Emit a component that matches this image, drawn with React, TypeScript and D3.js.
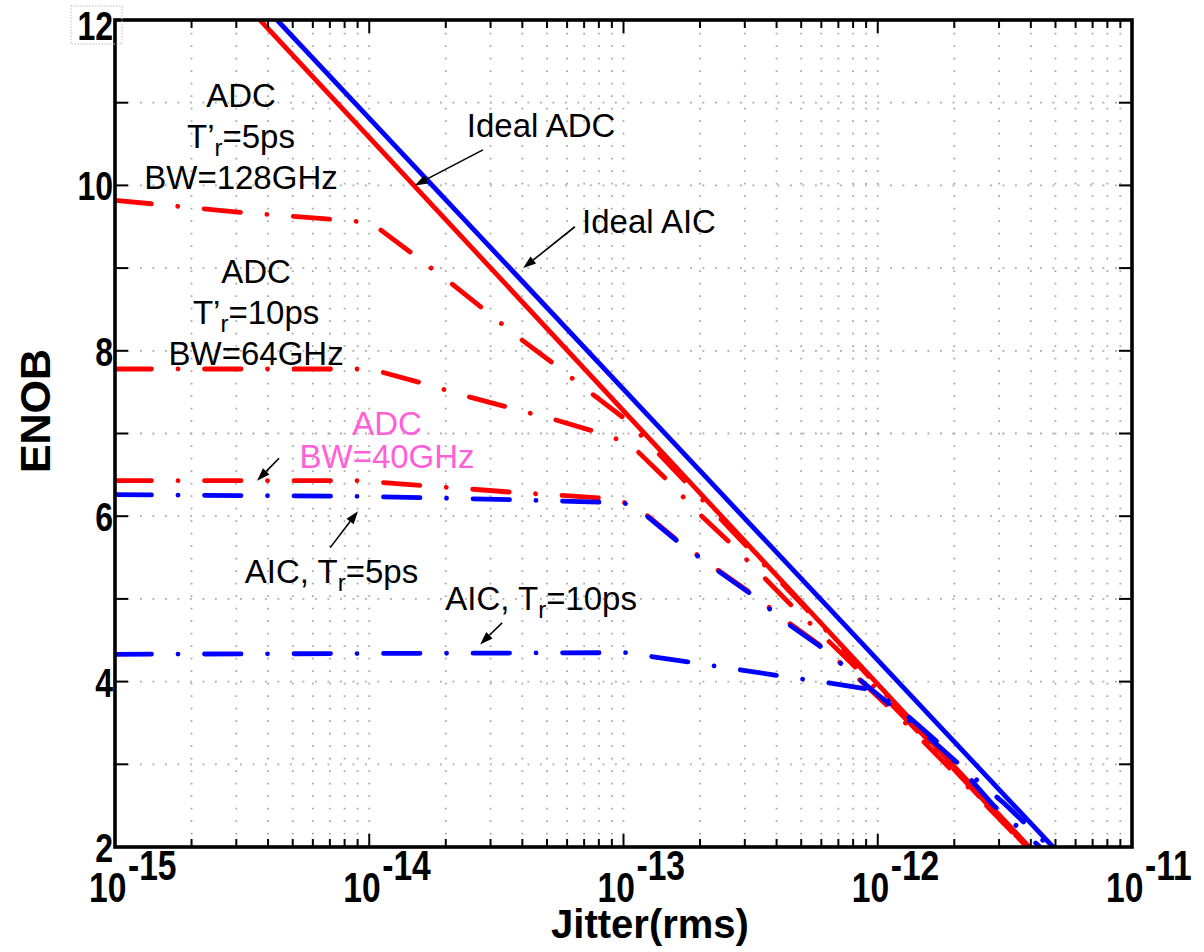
import React from 'react'
import * as d3 from 'd3'

// ENOB vs. jitter (rms) — ideal ADC/AIC lines and the band-limited curves.
// Values (jitter in seconds, ENOB in bits).
const W = 1204, H = 952
const M = { top: 20, right: 72, bottom: 105, left: 115 }

const idealAdcJitter = [3.72e-15, 3.94e-12]
const idealAdcEnob = [12, 2]
const idealAicJitter = [4.34e-15, 4.89e-12]
const idealAicEnob = [12, 2]

// ADC, T'r = 5ps, BW = 128GHz
const adc128Jitter = [1e-15, 3.24e-15, 7.2e-15, 9.2e-15, 1.1e-14, 1.47e-14, 2.11e-14, 2.77e-14, 3.99e-14, 5.28e-14, 7.59e-14, 1.03e-13, 2.0e-13, 4.94e-13, 1.22e-12, 3.86e-12]
const adc128Enob = [9.82, 9.67, 9.59, 9.56, 9.47, 9.18, 8.81, 8.52, 8.13, 7.85, 7.47, 7.16, 6.23, 4.96, 3.66, 2.0]

// ADC, T'r = 10ps, BW = 64GHz
const adc64Jitter = [1e-15, 9.04e-15, 1.13e-14, 1.61e-14, 2.49e-14, 3.48e-14, 5.47e-14, 7.58e-14, 9.51e-14, 1.14e-13, 1.48e-13, 2.0e-13, 2.62e-13, 4.65e-13, 7.78e-13, 1.6e-12, 3.86e-12]
const adc64Enob = [7.78, 7.78, 7.74, 7.61, 7.44, 7.32, 7.16, 7.03, 6.93, 6.78, 6.44, 6.02, 5.68, 4.9, 4.24, 3.25, 2.0]

// ADC, BW = 40GHz
const adc40Jitter = [1e-15, 9.04e-15, 3.64e-14, 8.22e-14, 1.03e-13, 1.25e-13, 1.64e-13, 2.35e-13, 3.2e-13, 4.52e-13, 6.04e-13, 8.51e-13, 1.22e-12, 2.1e-12, 3.86e-12]
const adc40Enob = [6.43, 6.43, 6.29, 6.22, 6.16, 6.0, 5.7, 5.35, 5.06, 4.7, 4.42, 4.02, 3.57, 2.83, 2.0]

// AIC, Tr = 5ps
const aic5Jitter = [1e-15, 9.04e-15, 3.64e-14, 8.22e-14, 1.03e-13, 1.25e-13, 1.64e-13, 2.35e-13, 3.2e-13, 4.52e-13, 6.04e-13, 9.33e-13, 1.47e-12, 2.41e-12, 3.11e-12, 4.75e-12]
const aic5Enob = [6.26, 6.24, 6.2, 6.17, 6.15, 5.99, 5.69, 5.34, 5.05, 4.68, 4.41, 3.92, 3.42, 2.83, 2.54, 2.0]

// AIC, Tr = 10ps
const aic10Jitter = [1e-15, 1.04e-13, 1.31e-13, 1.86e-13, 2.92e-13, 4.12e-13, 6.6e-13, 9.15e-13, 1.17e-12, 1.73e-12, 2.84e-12, 4.35e-12]
const aic10Enob = [4.33, 4.35, 4.3, 4.23, 4.14, 4.07, 3.98, 3.91, 3.72, 3.26, 2.51, 2.0]

const yTickValues = [2, 3, 4, 5, 6, 7, 8, 9, 10, 11, 12]
const yTickLabels = [2, 4, 6, 8, 10, 12]
const xDecades = [-15, -14, -13, -12, -11]

// annotation anchors, in data coordinates [jitter, enob]
const noteAdc128 = [3.13e-15, 10.95]
const noteAdc64 = [3.59e-15, 8.82]
const noteAdc40 = [1.175e-14, 6.98]
const noteAic5 = [3.24e-15, 5.19]
const noteAic10 = [1.99e-14, 4.87]
const noteIdealAdc = [2.42e-14, 10.585]
const noteIdealAic = [6.87e-14, 9.42]

// arrows: [from, to]
const arrows = [
  [[2.8e-14, 10.43], [1.51e-14, 10.0]],
  [[6.44e-14, 9.5], [4.03e-14, 9.0]],
  [[4.42e-15, 6.7], [3.62e-15, 6.43]],
  [[7.02e-15, 5.62], [9.03e-15, 6.06]],
  [[3.33e-14, 4.71], [2.73e-14, 4.45]],
]

const RED = '#ff0000'
const BLUE = '#0000ff'
const PINK = '#ff60d8'
const FONT = '"Liberation Sans", Arial, Helvetica, sans-serif'

const zip = (a: number[], b: number[]) => a.map((v, i) => [v, b[i]] as [number, number])

export default function App() {
  const x = d3.scaleLog().domain([1e-15, 1e-11]).range([M.left, W - M.right])
  const y = d3.scaleLinear().domain([2, 12]).range([H - M.bottom, M.top])
  const line = d3.line<[number, number]>().x(d => x(d[0])).y(d => y(d[1]))

  const x0 = M.left, x1 = W - M.right, y0 = H - M.bottom, y1 = M.top
  const xTicks = x.ticks()
  const isMajor = (v: number) => Math.abs(Math.log10(v) - Math.round(Math.log10(v))) < 1e-6

  const dashDot = '36.5 26.5 0.01 26.5'
  const series = [
    { j: adc128Jitter, e: adc128Enob, c: RED },
    { j: adc64Jitter, e: adc64Enob, c: RED },
    { j: adc40Jitter, e: adc40Enob, c: RED },
    { j: aic5Jitter, e: aic5Enob, c: BLUE },
    { j: aic10Jitter, e: aic10Enob, c: BLUE },
  ]

  const pt = (p: number[]) => [x(p[0]), y(p[1])]

  function arrow(a: number[][], i: number) {
    const [ax, ay] = pt(a[0]), [bx, by] = pt(a[1])
    const ang = Math.atan2(by - ay, bx - ax)
    const L = 13, hw = 4.5
    const cx = bx - L * Math.cos(ang), cy = by - L * Math.sin(ang)
    const px = -Math.sin(ang) * hw, py = Math.cos(ang) * hw
    return (
      <g key={i}>
        <line x1={ax} y1={ay} x2={cx} y2={cy} stroke="#000" strokeWidth={1.6} />
        <path d={`M${bx},${by}L${cx + px},${cy + py}L${cx - px},${cy - py}Z`} fill="#000" />
      </g>
    )
  }

  const [a128x, a128y] = pt(noteAdc128)
  const [a64x, a64y] = pt(noteAdc64)
  const [a40x, a40y] = pt(noteAdc40)
  const [n5x, n5y] = pt(noteAic5)
  const [n10x, n10y] = pt(noteAic10)
  const [iax, iay] = pt(noteIdealAdc)
  const [icx, icy] = pt(noteIdealAic)

  return (
    <div style={{ position: 'absolute', left: 0, top: 0 }}>
      <svg width={W} height={H} style={{ display: 'block', background: '#fff' }} fontFamily={FONT}>
        <defs>
          <clipPath id="plot">
            <rect x={x0} y={y1} width={x1 - x0} height={y0 - y1} />
          </clipPath>
        </defs>

        {/* dotted grid */}
        <g stroke="#a9a9a9" strokeWidth={1.8} strokeDasharray="1.8 10.7">
          {xTicks.map((v, i) => (
            <line key={'gx' + i} x1={x(v)} x2={x(v)} y1={y0} y2={y1} />
          ))}
          {yTickValues.map(v => (
            <line key={'gy' + v} x1={x0} x2={x1} y1={y(v)} y2={y(v)} />
          ))}
        </g>

        <g clipPath="url(#plot)" fill="none" strokeWidth={4.8}>
          <path d={line(zip(idealAdcJitter, idealAdcEnob)) || ''} stroke={RED} />
          <path d={line(zip(idealAicJitter, idealAicEnob)) || ''} stroke={BLUE} />
          {series.map((s, i) => (
            <path key={i} d={line(zip(s.j, s.e)) || ''} stroke={s.c}
              strokeDasharray={dashDot} strokeLinecap="round" />
          ))}
        </g>

        {/* ticks, pointing inward on all four sides */}
        <g stroke="#000" strokeWidth={2}>
          {xTicks.map((v, i) => {
            const len = isMajor(v) ? 13 : 8
            return (
              <g key={'tx' + i}>
                <line x1={x(v)} x2={x(v)} y1={y0} y2={y0 - len} />
                <line x1={x(v)} x2={x(v)} y1={y1} y2={y1 + len} />
              </g>
            )
          })}
          {yTickValues.map(v => (
            <g key={'ty' + v}>
              <line x1={x0} x2={x0 + 13} y1={y(v)} y2={y(v)} />
              <line x1={x1} x2={x1 - 13} y1={y(v)} y2={y(v)} />
            </g>
          ))}
        </g>
        <rect x={x0} y={y1} width={x1 - x0} height={y0 - y1} fill="none" stroke="#000" strokeWidth={3.6} />

        {/* y tick labels */}
        <g fontWeight="bold" fontSize={40} textAnchor="end" fill="#000">
          {yTickLabels.map(v => (
            <text key={'ly' + v} transform={`translate(${x0 - 2},${y(v) + (v === 12 ? 20 : 15)}) scale(0.8,1)`}>{v}</text>
          ))}
        </g>
        <rect x={x0 - 44} y={y(12) - 14} width={51} height={38} fill="none"
          stroke="#bdbdbd" strokeWidth={1} strokeDasharray="1.5 1.5" />

        {/* x tick labels 10^n */}
        <g fontWeight="bold" fontSize={42} fill="#000">
          {xDecades.map(d => (
            <text key={'lx' + d} transform={`translate(${x(Math.pow(10, d)) - 26},902) scale(0.8,1)`}>
              <tspan>10</tspan>
              <tspan dx={2} dy={-22}>{String(d)}</tspan>
            </text>
          ))}
        </g>

        {/* axis titles */}
        <text x={650} y={938} textAnchor="middle" fontWeight="bold" fontSize={40}>Jitter(rms)</text>
        <text transform="translate(50,411) rotate(-90)" textAnchor="middle" fontWeight="bold" fontSize={43}>ENOB</text>

        {/* annotations */}
        <g fontSize={33} fill="#000">
          <text x={a128x} y={a128y} textAnchor="middle">ADC</text>
          <text x={a128x} y={a128y + 41} textAnchor="middle">T’<tspan fontSize={24} dy={8}>r</tspan><tspan dy={-8}>=5ps</tspan></text>
          <text x={a128x} y={a128y + 82} textAnchor="middle">BW=128GHz</text>

          <text x={a64x} y={a64y} textAnchor="middle">ADC</text>
          <text x={a64x} y={a64y + 41} textAnchor="middle">T’<tspan fontSize={24} dy={8}>r</tspan><tspan dy={-8}>=10ps</tspan></text>
          <text x={a64x} y={a64y + 82} textAnchor="middle">BW=64GHz</text>

          <text x={a40x} y={a40y} textAnchor="middle" fill={PINK}>ADC</text>
          <text x={a40x} y={a40y + 33} textAnchor="middle" fill={PINK}>BW=40GHz</text>

          <text x={n5x} y={n5y}>AIC, T<tspan fontSize={24} dy={8}>r</tspan><tspan dy={-8}>=5ps</tspan></text>
          <text x={n10x} y={n10y}>AIC, T<tspan fontSize={24} dy={8}>r</tspan><tspan dy={-8}>=10ps</tspan></text>

          <text x={iax} y={iay}>Ideal ADC</text>
          <text x={icx} y={icy}>Ideal AIC</text>
        </g>
        {arrows.map(arrow)}
      </svg>
    </div>
  )
}
